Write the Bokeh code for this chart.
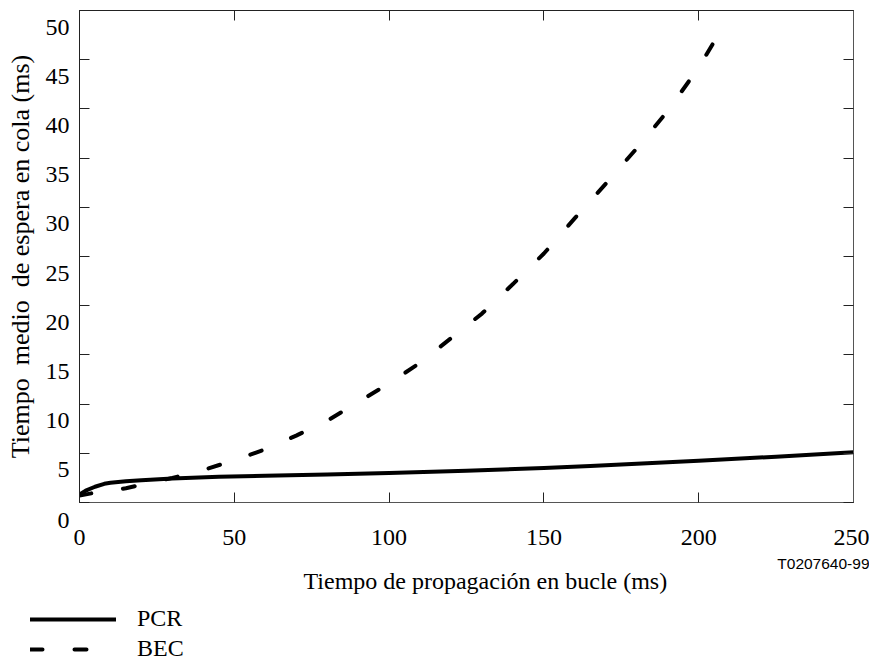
from bokeh.plotting import figure
from bokeh.layouts import column
from bokeh.models import (Range1d, LinearAxis, FixedTicker, Legend, LegendItem, Title)
from bokeh.embed import file_html
from bokeh.resources import INLINE

# ---- data ----
pcr_x = [0, 2, 5, 8, 10, 15, 20, 30, 45, 60, 80, 100, 125, 150, 165, 180, 200, 225, 250]
pcr_y = [0.8, 1.2, 1.6, 1.9, 2.0, 2.15, 2.25, 2.45, 2.62, 2.72, 2.85, 3.0, 3.22, 3.5, 3.72, 3.95, 4.25, 4.65, 5.1]

bec_x = [0, 5, 10, 15, 20, 30, 40, 50, 60, 70, 80, 90, 100, 110, 120, 130, 140, 150, 160, 170, 180, 190, 200, 207]
bec_y = [0.7, 1.0, 1.2, 1.45, 1.8, 2.5, 3.3, 4.3, 5.4, 6.8, 8.3, 10.2, 12.1, 14.2, 16.7, 19.2, 22.2, 25.3, 28.9, 32.4, 36.0, 39.8, 44.2, 47.9]

x_ticks = [0, 50, 100, 150, 200, 250]
y_ticks = [0, 5, 10, 15, 20, 25, 30, 35, 40, 45, 50]
y_tick_labels = ["0", "5", "10", "15", "20", "25", "30", "35", "40", "45", "50"]

x_title = "Tiempo de propagación en bucle (ms)"
y_title = "Tiempo\u00a0 medio\u00a0 de espera en cola (ms)"
code_text = "T0207640-99"
series_names = ["PCR", "BEC"]

SERIF = "Liberation Serif"

Y_MIN, Y_MAX = 0, 50
FRAME_H = 492
LABEL_DROP_PX = 16                      # y labels sit this far below their ticks
drop = LABEL_DROP_PX * (Y_MAX - Y_MIN) / FRAME_H

p = figure(width=869, height=600, output_backend="svg", toolbar_location=None,
           x_range=Range1d(0, 250), y_range=Range1d(Y_MIN, Y_MAX),
           min_border_left=79, min_border_right=16, min_border_top=10, min_border_bottom=98,
           x_axis_location=None, y_axis_location=None)
p.extra_y_ranges = {"lab": Range1d(Y_MIN + drop, Y_MAX + drop)}
p.xgrid.visible = False
p.ygrid.visible = False
p.outline_line_color = "#222222"
p.outline_line_width = 1
p.background_fill_color = "white"
p.border_fill_color = "white"


def ticks_only(axis):
    axis.major_tick_in = 10
    axis.major_tick_out = 0
    axis.minor_tick_in = 0
    axis.minor_tick_out = 0
    axis.major_tick_line_color = "#222222"


def no_labels(axis):
    axis.major_label_text_font_size = "0px"
    axis.major_label_standoff = 0


# bottom axis
xb = LinearAxis(ticker=FixedTicker(ticks=x_ticks))
ticks_only(xb)
xb.axis_line_color = "#555555"
xb.major_label_text_font = SERIF
xb.major_label_text_font_size = "24px"
xb.major_label_text_color = "black"
xb.major_label_standoff = 27
p.add_layout(xb, "below")

# figure code, right-aligned under the axis
t_code = Title(text=code_text, align="right", offset=-16, standoff=10,
               text_font="Liberation Sans", text_font_size="15.5px",
               text_font_style="normal", text_color="black")
p.add_layout(t_code, "below")

# x axis title
t_x = Title(text=x_title, align="left", offset=224, standoff=-22,
            text_font=SERIF, text_font_size="24px",
            text_font_style="normal", text_color="black")
p.add_layout(t_x, "below")

# top axis (ticks only)
xt = LinearAxis(ticker=FixedTicker(ticks=x_ticks))
ticks_only(xt)
no_labels(xt)
xt.axis_line_color = "#222222"
p.add_layout(xt, "above")

# left axis: tick marks
yl = LinearAxis(ticker=FixedTicker(ticks=y_ticks))
ticks_only(yl)
no_labels(yl)
yl.axis_line_color = "#222222"
p.add_layout(yl, "left")

# left axis: labels, on a range shifted so each label sits below its tick
lab_ticks = [drop] + y_ticks[1:]
lab_overrides = {drop: "\n" + y_tick_labels[0]}
lab_overrides.update({v: t for v, t in zip(y_ticks[1:], y_tick_labels[1:])})
ylab = LinearAxis(y_range_name="lab", ticker=FixedTicker(ticks=lab_ticks), axis_label=y_title)
ylab.major_tick_in = 0
ylab.major_tick_out = 0
ylab.minor_tick_in = 0
ylab.minor_tick_out = 0
ylab.major_tick_line_color = None
ylab.axis_line_color = None
ylab.major_label_overrides = lab_overrides
ylab.major_label_text_font = SERIF
ylab.major_label_text_font_size = "24px"
ylab.major_label_text_line_height = 1.35
ylab.major_label_text_color = "black"
ylab.major_label_standoff = 10
ylab.axis_label_text_font = SERIF
ylab.axis_label_text_font_size = "26px"
ylab.axis_label_text_font_style = "normal"
ylab.axis_label_text_color = "black"
ylab.axis_label_standoff = 8
p.add_layout(ylab, "left")

# right axis (ticks only)
yr = LinearAxis(ticker=FixedTicker(ticks=y_ticks))
ticks_only(yr)
no_labels(yr)
yr.axis_line_color = "#555555"
p.add_layout(yr, "right")

r1 = p.line(pcr_x, pcr_y, line_color="black", line_width=4, line_cap="round", line_join="round")
r2 = p.line(bec_x, bec_y, line_color="black", line_width=4, line_dash="12 32", line_cap="round")

# legend strip below the chart (its own frame starts at the page edge)
lg = figure(width=869, height=64, output_backend="svg", toolbar_location=None,
            x_axis_location=None, y_axis_location=None,
            x_range=Range1d(1000, 1001), y_range=Range1d(1000, 1001),
            min_border=0, min_border_left=0, min_border_right=0,
            min_border_top=0, min_border_bottom=0)
lg.frame_align = False
lg.outline_line_color = None
lg.xgrid.visible = False
lg.ygrid.visible = False
# single-point sample renderers (nothing drawn in the strip itself)
l1 = lg.line(pcr_x[:1], pcr_y[:1], line_color="black", line_width=4, line_cap="round")
l2 = lg.line(bec_x[:1], bec_y[:1], line_color="black", line_width=4, line_dash="12 32", line_cap="round")

legend = Legend(items=[LegendItem(label=series_names[0], renderers=[l1]),
                       LegendItem(label=series_names[1], renderers=[l2])],
                location=(30, 2), orientation="vertical")
legend.glyph_width = 86
legend.glyph_height = 20
legend.label_height = 20
legend.label_standoff = 21
legend.spacing = 3
legend.padding = 0
legend.margin = 0
legend.border_line_color = None
legend.background_fill_alpha = 0
legend.label_text_font = SERIF
legend.label_text_font_size = "24px"
legend.label_text_color = "black"
lg.add_layout(legend, "center")

layout = column(p, lg, spacing=0)
open("out.html", "w").write(file_html(layout, INLINE))
